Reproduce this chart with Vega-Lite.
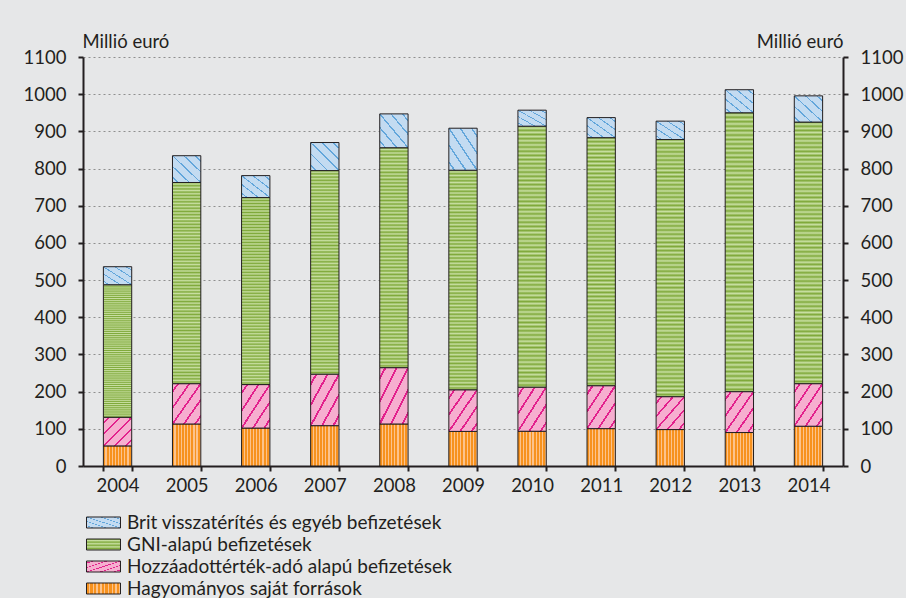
{
  "$schema": "https://vega.github.io/schema/vega-lite/v6.json",
  "width": 760,
  "height": 409,
  "autosize": {"type": "none"},
  "padding": {"left": 83, "top": 57, "right": 63, "bottom": 132},
  "background": "#e6e7e8",
  "config": {"view": {"stroke": null}, "font": "Lato"},
  "data": {"values": [
    {"year": "2004", "s": "Hagyományos saját források", "o": 1, "v": 54},
    {"year": "2004", "s": "Hozzáadottérték-adó alapú befizetések", "o": 2, "v": 77},
    {"year": "2004", "s": "GNI-alapú befizetések", "o": 3, "v": 356.5},
    {"year": "2004", "s": "Brit visszatérítés és egyéb befizetések", "o": 4, "v": 48.5},
    {"year": "2005", "s": "Hagyományos saját források", "o": 1, "v": 113},
    {"year": "2005", "s": "Hozzáadottérték-adó alapú befizetések", "o": 2, "v": 108.5},
    {"year": "2005", "s": "GNI-alapú befizetések", "o": 3, "v": 541},
    {"year": "2005", "s": "Brit visszatérítés és egyéb befizetések", "o": 4, "v": 72},
    {"year": "2006", "s": "Hagyományos saját források", "o": 1, "v": 102},
    {"year": "2006", "s": "Hozzáadottérték-adó alapú befizetések", "o": 2, "v": 117},
    {"year": "2006", "s": "GNI-alapú befizetések", "o": 3, "v": 503},
    {"year": "2006", "s": "Brit visszatérítés és egyéb befizetések", "o": 4, "v": 59},
    {"year": "2007", "s": "Hagyományos saját források", "o": 1, "v": 108.5},
    {"year": "2007", "s": "Hozzáadottérték-adó alapú befizetések", "o": 2, "v": 138.5},
    {"year": "2007", "s": "GNI-alapú befizetések", "o": 3, "v": 547.5},
    {"year": "2007", "s": "Brit visszatérítés és egyéb befizetések", "o": 4, "v": 75.5},
    {"year": "2008", "s": "Hagyományos saját források", "o": 1, "v": 113},
    {"year": "2008", "s": "Hozzáadottérték-adó alapú befizetések", "o": 2, "v": 151.5},
    {"year": "2008", "s": "GNI-alapú befizetések", "o": 3, "v": 591.5},
    {"year": "2008", "s": "Brit visszatérítés és egyéb befizetések", "o": 4, "v": 91},
    {"year": "2009", "s": "Hagyományos saját források", "o": 1, "v": 93},
    {"year": "2009", "s": "Hozzáadottérték-adó alapú befizetések", "o": 2, "v": 112},
    {"year": "2009", "s": "GNI-alapú befizetések", "o": 3, "v": 590.5},
    {"year": "2009", "s": "Brit visszatérítés és egyéb befizetések", "o": 4, "v": 113},
    {"year": "2010", "s": "Hagyományos saját források", "o": 1, "v": 93.5},
    {"year": "2010", "s": "Hozzáadottérték-adó alapú befizetések", "o": 2, "v": 118.5},
    {"year": "2010", "s": "GNI-alapú befizetések", "o": 3, "v": 702},
    {"year": "2010", "s": "Brit visszatérítés és egyéb befizetések", "o": 4, "v": 43},
    {"year": "2011", "s": "Hagyományos saját források", "o": 1, "v": 100.5},
    {"year": "2011", "s": "Hozzáadottérték-adó alapú befizetések", "o": 2, "v": 115.5},
    {"year": "2011", "s": "GNI-alapú befizetések", "o": 3, "v": 667},
    {"year": "2011", "s": "Brit visszatérítés és egyéb befizetések", "o": 4, "v": 54},
    {"year": "2012", "s": "Hagyományos saját források", "o": 1, "v": 98},
    {"year": "2012", "s": "Hozzáadottérték-adó alapú befizetések", "o": 2, "v": 88.5},
    {"year": "2012", "s": "GNI-alapú befizetések", "o": 3, "v": 691.5},
    {"year": "2012", "s": "Brit visszatérítés és egyéb befizetések", "o": 4, "v": 49.5},
    {"year": "2013", "s": "Hagyományos saját források", "o": 1, "v": 90},
    {"year": "2013", "s": "Hozzáadottérték-adó alapú befizetések", "o": 2, "v": 110},
    {"year": "2013", "s": "GNI-alapú befizetések", "o": 3, "v": 750},
    {"year": "2013", "s": "Brit visszatérítés és egyéb befizetések", "o": 4, "v": 62},
    {"year": "2014", "s": "Hagyományos saját források", "o": 1, "v": 107},
    {"year": "2014", "s": "Hozzáadottérték-adó alapú befizetések", "o": 2, "v": 114.5},
    {"year": "2014", "s": "GNI-alapú befizetések", "o": 3, "v": 703.5},
    {"year": "2014", "s": "Brit visszatérítés és egyéb befizetések", "o": 4, "v": 70.5}
  ]},
  "layer": [
    {
      "mark": {"type": "bar", "stroke": "#231f20", "strokeWidth": 1},
      "encoding": {
        "x": {
          "field": "year", "type": "ordinal",
          "scale": {"paddingInner": 0.59, "paddingOuter": 0.295},
          "axis": {"title": null, "labelAngle": 0, "labelFontSize": 18.5, "labelColor": "#231f20", "domainColor": "#231f20", "domainWidth": 2, "tickColor": "#231f20", "tickWidth": 2, "tickSize": 5, "tickBand": "extent", "labelPadding": 5}
        },
        "y": {
          "field": "v", "type": "quantitative", "stack": "zero",
          "scale": {"domain": [0, 1100], "nice": false},
          "axis": {"orient": "left", "format": "d", "values": [0, 100, 200, 300, 400, 500, 600, 700, 800, 900, 1000, 1100], "grid": true, "gridDash": [2, 3], "gridColor": "#8f8f8f", "gridWidth": 1, "domainColor": "#231f20", "domainWidth": 2, "tickColor": "#231f20", "tickWidth": 2, "tickSize": 5, "labelFontSize": 18.5, "labelColor": "#231f20", "labelPadding": 12, "title": "Millió euró", "titleAngle": 0, "titleAlign": "left", "titleBaseline": "alphabetic", "titleX": -1, "titleY": -10, "titleFontSize": 18.5, "titleFontWeight": "normal", "titleColor": "#231f20"}
        },
        "color": {
          "field": "s", "type": "nominal",
          "scale": {
            "domain": ["Brit visszatérítés és egyéb befizetések", "GNI-alapú befizetések", "Hozzáadottérték-adó alapú befizetések", "Hagyományos saját források"],
            "range": [
              {"expr": "{gradient:'linear',x1:0,y1:1,x2:1,y2:0,stops:[{offset:0,color:'#c3dbf1'},{offset:0.085,color:'#c3dbf1'},{offset:0.085,color:'#62a6db'},{offset:0.115,color:'#62a6db'},{offset:0.115,color:'#c3dbf1'},{offset:0.285,color:'#c3dbf1'},{offset:0.285,color:'#62a6db'},{offset:0.315,color:'#62a6db'},{offset:0.315,color:'#c3dbf1'},{offset:0.485,color:'#c3dbf1'},{offset:0.485,color:'#62a6db'},{offset:0.515,color:'#62a6db'},{offset:0.515,color:'#c3dbf1'},{offset:0.685,color:'#c3dbf1'},{offset:0.685,color:'#62a6db'},{offset:0.715,color:'#62a6db'},{offset:0.715,color:'#c3dbf1'},{offset:0.885,color:'#c3dbf1'},{offset:0.885,color:'#62a6db'},{offset:0.915,color:'#62a6db'},{offset:0.915,color:'#c3dbf1'},{offset:1,color:'#c3dbf1'}]}"},
              {"expr": "{gradient:'linear',x1:0,y1:0,x2:0,y2:1,stops:[{offset:0,color:'#7fa93a'},{offset:0.008,color:'#c8dfa2'},{offset:0.016,color:'#7fa93a'},{offset:0.024,color:'#c8dfa2'},{offset:0.032,color:'#7fa93a'},{offset:0.04,color:'#c8dfa2'},{offset:0.048,color:'#7fa93a'},{offset:0.056,color:'#c8dfa2'},{offset:0.064,color:'#7fa93a'},{offset:0.072,color:'#c8dfa2'},{offset:0.08,color:'#7fa93a'},{offset:0.088,color:'#c8dfa2'},{offset:0.096,color:'#7fa93a'},{offset:0.104,color:'#c8dfa2'},{offset:0.112,color:'#7fa93a'},{offset:0.12,color:'#c8dfa2'},{offset:0.128,color:'#7fa93a'},{offset:0.136,color:'#c8dfa2'},{offset:0.144,color:'#7fa93a'},{offset:0.152,color:'#c8dfa2'},{offset:0.16,color:'#7fa93a'},{offset:0.168,color:'#c8dfa2'},{offset:0.176,color:'#7fa93a'},{offset:0.184,color:'#c8dfa2'},{offset:0.192,color:'#7fa93a'},{offset:0.2,color:'#c8dfa2'},{offset:0.208,color:'#7fa93a'},{offset:0.216,color:'#c8dfa2'},{offset:0.224,color:'#7fa93a'},{offset:0.232,color:'#c8dfa2'},{offset:0.24,color:'#7fa93a'},{offset:0.248,color:'#c8dfa2'},{offset:0.256,color:'#7fa93a'},{offset:0.264,color:'#c8dfa2'},{offset:0.272,color:'#7fa93a'},{offset:0.28,color:'#c8dfa2'},{offset:0.288,color:'#7fa93a'},{offset:0.296,color:'#c8dfa2'},{offset:0.304,color:'#7fa93a'},{offset:0.312,color:'#c8dfa2'},{offset:0.32,color:'#7fa93a'},{offset:0.328,color:'#c8dfa2'},{offset:0.336,color:'#7fa93a'},{offset:0.344,color:'#c8dfa2'},{offset:0.352,color:'#7fa93a'},{offset:0.36,color:'#c8dfa2'},{offset:0.368,color:'#7fa93a'},{offset:0.376,color:'#c8dfa2'},{offset:0.384,color:'#7fa93a'},{offset:0.392,color:'#c8dfa2'},{offset:0.4,color:'#7fa93a'},{offset:0.408,color:'#c8dfa2'},{offset:0.416,color:'#7fa93a'},{offset:0.424,color:'#c8dfa2'},{offset:0.432,color:'#7fa93a'},{offset:0.44,color:'#c8dfa2'},{offset:0.448,color:'#7fa93a'},{offset:0.456,color:'#c8dfa2'},{offset:0.464,color:'#7fa93a'},{offset:0.472,color:'#c8dfa2'},{offset:0.48,color:'#7fa93a'},{offset:0.488,color:'#c8dfa2'},{offset:0.496,color:'#7fa93a'},{offset:0.504,color:'#c8dfa2'},{offset:0.512,color:'#7fa93a'},{offset:0.52,color:'#c8dfa2'},{offset:0.528,color:'#7fa93a'},{offset:0.536,color:'#c8dfa2'},{offset:0.544,color:'#7fa93a'},{offset:0.552,color:'#c8dfa2'},{offset:0.56,color:'#7fa93a'},{offset:0.568,color:'#c8dfa2'},{offset:0.576,color:'#7fa93a'},{offset:0.584,color:'#c8dfa2'},{offset:0.592,color:'#7fa93a'},{offset:0.6,color:'#c8dfa2'},{offset:0.608,color:'#7fa93a'},{offset:0.616,color:'#c8dfa2'},{offset:0.624,color:'#7fa93a'},{offset:0.632,color:'#c8dfa2'},{offset:0.64,color:'#7fa93a'},{offset:0.648,color:'#c8dfa2'},{offset:0.656,color:'#7fa93a'},{offset:0.664,color:'#c8dfa2'},{offset:0.672,color:'#7fa93a'},{offset:0.68,color:'#c8dfa2'},{offset:0.688,color:'#7fa93a'},{offset:0.696,color:'#c8dfa2'},{offset:0.704,color:'#7fa93a'},{offset:0.712,color:'#c8dfa2'},{offset:0.72,color:'#7fa93a'},{offset:0.728,color:'#c8dfa2'},{offset:0.736,color:'#7fa93a'},{offset:0.744,color:'#c8dfa2'},{offset:0.752,color:'#7fa93a'},{offset:0.76,color:'#c8dfa2'},{offset:0.768,color:'#7fa93a'},{offset:0.776,color:'#c8dfa2'},{offset:0.784,color:'#7fa93a'},{offset:0.792,color:'#c8dfa2'},{offset:0.8,color:'#7fa93a'},{offset:0.808,color:'#c8dfa2'},{offset:0.816,color:'#7fa93a'},{offset:0.824,color:'#c8dfa2'},{offset:0.832,color:'#7fa93a'},{offset:0.84,color:'#c8dfa2'},{offset:0.848,color:'#7fa93a'},{offset:0.856,color:'#c8dfa2'},{offset:0.864,color:'#7fa93a'},{offset:0.872,color:'#c8dfa2'},{offset:0.88,color:'#7fa93a'},{offset:0.888,color:'#c8dfa2'},{offset:0.896,color:'#7fa93a'},{offset:0.904,color:'#c8dfa2'},{offset:0.912,color:'#7fa93a'},{offset:0.92,color:'#c8dfa2'},{offset:0.928,color:'#7fa93a'},{offset:0.936,color:'#c8dfa2'},{offset:0.944,color:'#7fa93a'},{offset:0.952,color:'#c8dfa2'},{offset:0.96,color:'#7fa93a'},{offset:0.968,color:'#c8dfa2'},{offset:0.976,color:'#7fa93a'},{offset:0.984,color:'#c8dfa2'},{offset:0.992,color:'#7fa93a'},{offset:1,color:'#c8dfa2'}]}"},
              {"expr": "{gradient:'linear',x1:0,y1:0,x2:1,y2:1,stops:[{offset:0,color:'#f6aecf'},{offset:0.082,color:'#f6aecf'},{offset:0.082,color:'#e2218c'},{offset:0.118,color:'#e2218c'},{offset:0.118,color:'#f6aecf'},{offset:0.282,color:'#f6aecf'},{offset:0.282,color:'#e2218c'},{offset:0.318,color:'#e2218c'},{offset:0.318,color:'#f6aecf'},{offset:0.482,color:'#f6aecf'},{offset:0.482,color:'#e2218c'},{offset:0.518,color:'#e2218c'},{offset:0.518,color:'#f6aecf'},{offset:0.682,color:'#f6aecf'},{offset:0.682,color:'#e2218c'},{offset:0.718,color:'#e2218c'},{offset:0.718,color:'#f6aecf'},{offset:0.882,color:'#f6aecf'},{offset:0.882,color:'#e2218c'},{offset:0.918,color:'#e2218c'},{offset:0.918,color:'#f6aecf'},{offset:1,color:'#f6aecf'}]}"},
              {"expr": "{gradient:'linear',x1:0,y1:0,x2:1,y2:0,stops:[{offset:0,color:'#f7921e'},{offset:0.07,color:'#f7921e'},{offset:0.07,color:'#fcc38c'},{offset:0.111,color:'#fcc38c'},{offset:0.111,color:'#f7921e'},{offset:0.181,color:'#f7921e'},{offset:0.181,color:'#fcc38c'},{offset:0.222,color:'#fcc38c'},{offset:0.222,color:'#f7921e'},{offset:0.292,color:'#f7921e'},{offset:0.292,color:'#fcc38c'},{offset:0.333,color:'#fcc38c'},{offset:0.333,color:'#f7921e'},{offset:0.403,color:'#f7921e'},{offset:0.403,color:'#fcc38c'},{offset:0.444,color:'#fcc38c'},{offset:0.444,color:'#f7921e'},{offset:0.514,color:'#f7921e'},{offset:0.514,color:'#fcc38c'},{offset:0.556,color:'#fcc38c'},{offset:0.556,color:'#f7921e'},{offset:0.626,color:'#f7921e'},{offset:0.626,color:'#fcc38c'},{offset:0.667,color:'#fcc38c'},{offset:0.667,color:'#f7921e'},{offset:0.737,color:'#f7921e'},{offset:0.737,color:'#fcc38c'},{offset:0.778,color:'#fcc38c'},{offset:0.778,color:'#f7921e'},{offset:0.848,color:'#f7921e'},{offset:0.848,color:'#fcc38c'},{offset:0.889,color:'#fcc38c'},{offset:0.889,color:'#f7921e'},{offset:0.959,color:'#f7921e'},{offset:0.959,color:'#fcc38c'},{offset:1,color:'#fcc38c'}]}"}
            ]
          },
          "legend": {"title": null, "orient": "none", "legendX": 11, "legendY": 456, "direction": "vertical", "symbolType": "M-3.09,-1H3.09V1H-3.09Z", "symbolSize": 121, "symbolStrokeColor": "#231f20", "symbolStrokeWidth": 1, "symbolOpacity": 1, "labelFontSize": 19, "labelColor": "#231f20", "labelOffset": 14, "rowPadding": 2, "labelLimit": 600}
        },
        "order": {"field": "o", "type": "quantitative"}
      }
    },
    {
      "mark": {"type": "point", "opacity": 0},
      "encoding": {
        "x": {"field": "year", "type": "ordinal"},
        "y": {
          "field": "v", "type": "quantitative",
          "scale": {"domain": [0, 1100], "nice": false},
          "axis": {"orient": "right", "format": "d", "values": [0, 100, 200, 300, 400, 500, 600, 700, 800, 900, 1000, 1100], "grid": false, "domainColor": "#231f20", "domainWidth": 2, "tickColor": "#231f20", "tickWidth": 2, "tickSize": 5, "labelFontSize": 18.5, "labelColor": "#231f20", "labelPadding": 12, "title": "Millió euró", "titleAngle": 0, "titleAlign": "right", "titleBaseline": "alphabetic", "titleX": 0, "titleY": -10, "titleFontSize": 18.5, "titleFontWeight": "normal", "titleColor": "#231f20"}
        }
      }
    }
  ],
  "resolve": {"axis": {"y": "independent"}}
}
